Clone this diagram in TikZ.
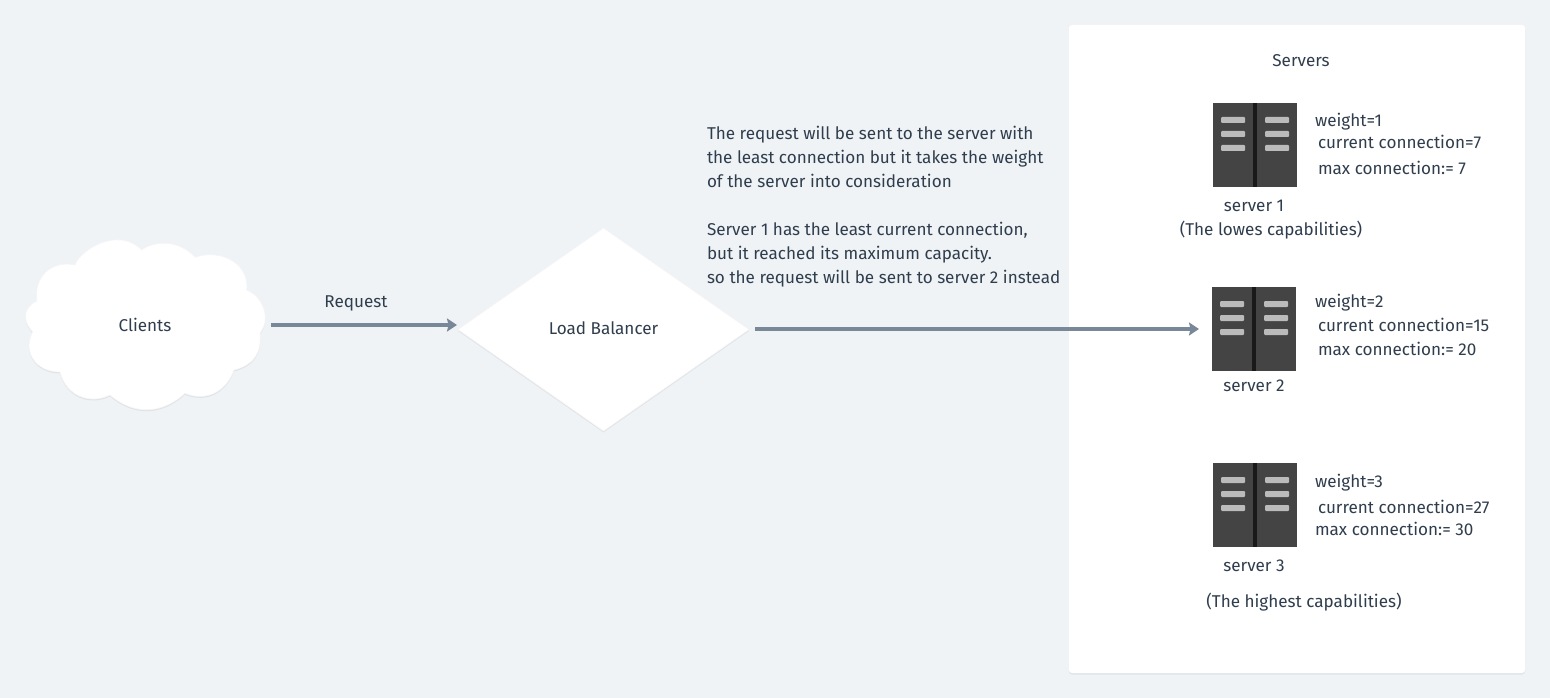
\documentclass[tikz,border=0pt]{standalone}
\usepackage{fontspec}
\setmainfont{Fira Sans}
\usetikzlibrary{arrows.meta,shapes.geometric,shadows}
\definecolor{pagebg}{HTML}{EFF3F6}
\definecolor{inktext}{HTML}{2F3D4D}
\definecolor{flowline}{HTML}{788898}
\definecolor{rackbody}{HTML}{444444}
\definecolor{rackslot}{HTML}{BBBBBB}

\begin{document}
\begin{tikzpicture}[
            x = 1pt, y = -1pt, % one unit is one pixel of the reference
            every node/.style = {font=\fontsize{17.1}{24}\selectfont, text=inktext, inner sep=0pt, outer sep=0pt},
            softshadow/.style = {drop shadow={shadow xshift=0pt, shadow yshift=-1.5pt, opacity=.06, fill=black}},
            flowarrow/.style = {-{Stealth[length=10pt,width=13pt,inset=1.5pt]}, draw=flowline, line width=4pt},
            serverbox/.style = {
                rectangle, fill=rackbody, minimum width=84pt, minimum height=84pt,
                path picture={
                    \fill[black!90] ([xshift=-2pt]path picture bounding box.north) rectangle ([xshift=2pt]path picture bounding box.south);
                    \foreach \slotx in {-34,10}
                        \foreach \sloty in {-28,-14,0}
                            \fill[rackslot,rounded corners=1pt] ([xshift=\slotx pt,yshift=-\sloty pt]path picture bounding box.center) ++(0,6) rectangle ++(24,-6);
                }
            },
            statlabel/.style = {anchor=base west},
            caption/.style = {anchor=base}
        ]

	\fill[pagebg] (0,0) rectangle (1550,698);
	\fill[white,rounded corners=3pt,softshadow] (1069,25) rectangle (1525,673);

	% cloud outline goes round the lobes clockwise
	\fill[white,draw=black!4,line width=.6pt,softshadow] (75,265)
		.. controls (80,250) and (118,226) .. (141.7,250)
		.. controls (155,240) and (180,240) .. (195,257.3)
		.. controls (222,248) and (250,265) .. (246.7,290)
		.. controls (262,296) and (272,318) .. (260,333)
		.. controls (262,352) and (254,365) .. (234,370)
		.. controls (226,392) and (206,402) .. (185,393.3)
		.. controls (160,416) and (132,414) .. (110,395)
		.. controls (90,405) and (66,396) .. (60,372)
		.. controls (36,372) and (22,352) .. (32.7,332)
		.. controls (20,318) and (26,306) .. (36.7,301)
		.. controls (34,276) and (52,260) .. (75,265) -- cycle;
	\node[minimum width=240pt, minimum height=168pt] (clients) at (145,325) {Clients};

	\node[diamond, aspect=1.43, fill=white, draw=black!4, line width=.6pt, softshadow, minimum width=291pt, minimum height=203pt, text height=10pt, text depth=0pt] (balancer) at (603.5,329.5) {Load Balancer};

	\node[caption] (request) at (356,307) {Request};
	\node[anchor=north west, align=left] (note) at (707,126) {The request will be sent to the server with\\
		the least connection but it takes the weight\\
		of the server into consideration\\
		\\
		Server 1 has the least current connection,\\
		but it reached its maximum capacity.\\
		so the request will be sent to server 2 instead};

	\node[caption] (servers) at (1301,67) {Servers};

	\node[serverbox] (server1) at (1255,145) {};
	\node[caption] (name1) at (1254,211) {server 1};
	\node[caption] (cap1) at (1271,235) {(The lowes capabilities)};
	\node[statlabel] (weight1) at (1315,127) {weight=1};
	\node[statlabel] (current1) at (1318,149) {current connection=7};
	\node[statlabel] (max1) at (1318,175) {max connection:= 7};

	\node[serverbox] (server2) at (1254,329) {};
	\node[caption] (name2) at (1254,391) {server 2};
	\node[statlabel] (weight2) at (1315,307) {weight=2};
	\node[statlabel] (current2) at (1318,331) {current connection=15};
	\node[statlabel] (max2) at (1318,355) {max connection:= 20};

	\node[serverbox] (server3) at (1255,505) {};
	\node[caption] (name3) at (1254,571) {server 3};
	\node[caption] (cap3) at (1304,607) {(The highest capabilities)};
	\node[statlabel] (weight3) at (1315,487) {weight=3};
	\node[statlabel] (current3) at (1318,513) {current connection=27};
	\node[statlabel] (max3) at (1315,535) {max connection:= 30};

	\draw[flowarrow,shorten <=6pt,shorten >=1pt] (clients.east) -- (clients.east -| balancer.west);
	\draw[flowarrow,shorten <=6pt,shorten >=13pt] (balancer.east |- server2.west) -- (server2.west);

\end{tikzpicture}
\end{document}
